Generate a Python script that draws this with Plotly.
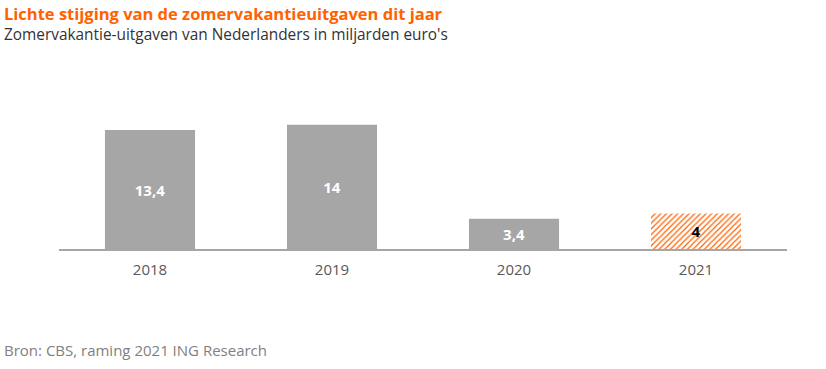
import plotly.graph_objects as go

years = ["2018", "2019", "2020", "2021"]
values = [13.4, 14, 3.4, 4]
is_estimate = [False, False, False, True]

title = "Lichte stijging van de zomervakantieuitgaven dit jaar"
subtitle = "Zomervakantie-uitgaven van Nederlanders in miljarden euro's"
source = "Bron: CBS, raming 2021 ING Research"

ORANGE = "#FF6200"
GREY = "#A6A6A6"
FONT = "Open Sans"

labels = [f"{v:g}".replace(".", ",") for v in values]

act_x = [x for x, e in zip(years, is_estimate) if not e]
act_y = [v for v, e in zip(values, is_estimate) if not e]
act_t = [t for t, e in zip(labels, is_estimate) if not e]
est_x = [x for x, e in zip(years, is_estimate) if e]
est_y = [v for v, e in zip(values, is_estimate) if e]
est_t = [t for t, e in zip(labels, is_estimate) if e]

fig = go.Figure()
fig.add_trace(go.Bar(
    x=act_x, y=act_y, text=act_t,
    textposition="inside", insidetextanchor="middle",
    textfont=dict(family=FONT, size=15, color="white", weight="bold"),
    marker=dict(color=GREY, line=dict(width=0)),
    width=0.495, hoverinfo="skip",
))
fig.add_trace(go.Bar(
    x=est_x, y=est_y, text=est_t,
    textposition="inside", insidetextanchor="middle",
    textfont=dict(family=FONT, size=15, color="black", weight="bold"),
    marker=dict(
        color=ORANGE, line=dict(width=0),
        pattern=dict(shape="/", fgcolor=ORANGE, bgcolor="white", size=4,
                     solidity=0.3, fillmode="replace"),
    ),
    width=0.495, hoverinfo="skip",
))

W, H = 826, 369
TOP, BOT = 80, 249
PH = BOT - TOP


def py(y):
    return (BOT - y) / PH


header = (f"<span style='color:{ORANGE};font-size:16.5px'><b>{title}</b></span>"
          f"<br><span style='color:#333333'>{subtitle}</span>")

fig.update_layout(
    width=W, height=H,
    margin=dict(l=59, r=39, t=TOP, b=H - BOT),
    paper_bgcolor="white", plot_bgcolor="white",
    showlegend=False, barmode="overlay",
    font=dict(family=FONT),
    xaxis=dict(showline=True, linecolor=GREY, linewidth=2, ticks="",
               tickfont=dict(size=15, color="#595959"), showgrid=False,
               ticklabelstandoff=6,
               categoryorder="array", categoryarray=years),
    yaxis=dict(range=[0, 19.05], visible=False, showgrid=False),
    annotations=[
        dict(text=header, xref="paper", yref="paper", x=-57 / 728,
             y=py(23), xanchor="left", yanchor="middle", align="left",
             showarrow=False, font=dict(family=FONT, size=15.4, color="#333333")),
        dict(text=source, xref="paper", yref="paper", x=-57 / 728,
             y=py(350), xanchor="left", yanchor="middle",
             showarrow=False, font=dict(family=FONT, size=15, color="#7F7F7F")),
    ],
)

fig.write_html("out.html", config={"displayModeBar": False},
               post_script="document.body.style.margin='0';")
